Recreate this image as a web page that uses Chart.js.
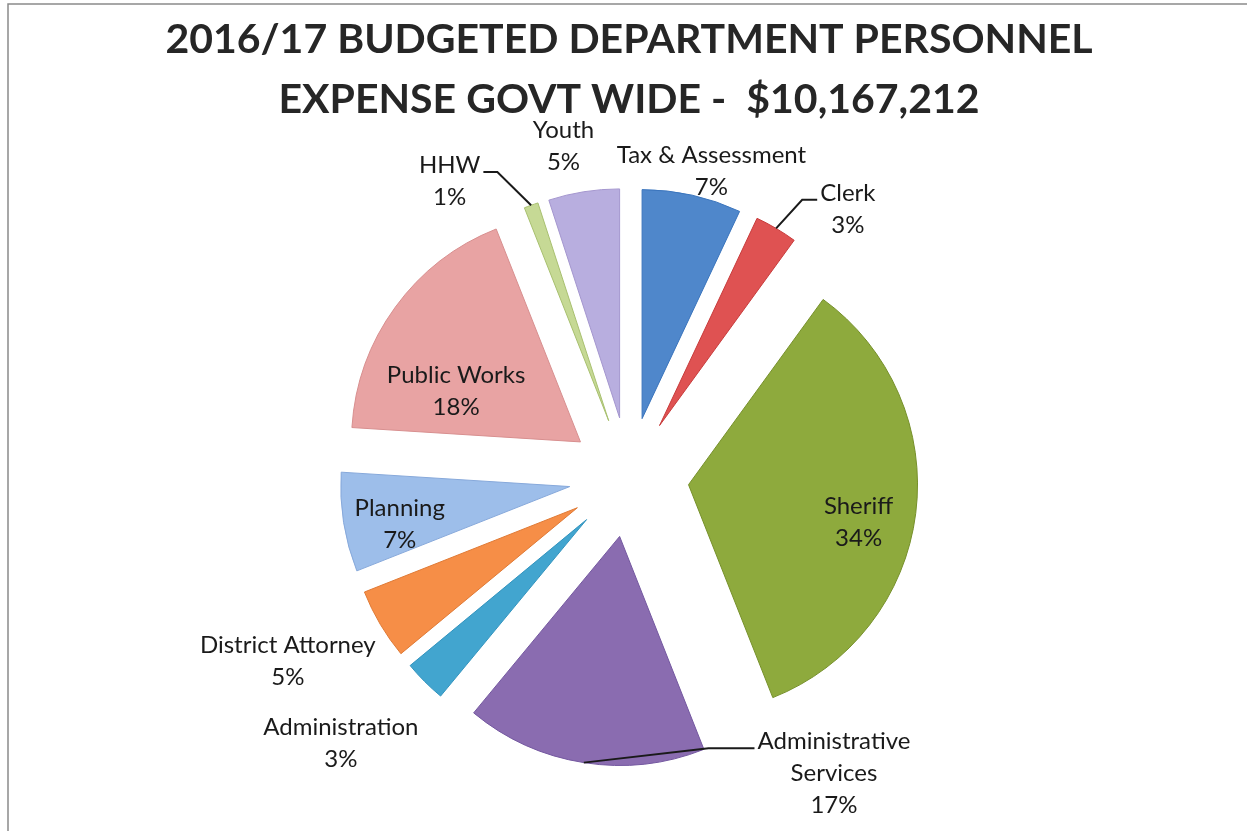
<!DOCTYPE html>
<html>
<head>
<meta charset="utf-8">
<title>2016/17 Budgeted Department Personnel Expense</title>
<script src="https://cdn.jsdelivr.net/npm/chart.js@4.4.0/dist/chart.umd.min.js"></script>
<style>
    html, body { margin: 0; padding: 0; background: #ffffff; }
    #wrap { width: 1247px; height: 831px; }
</style>
</head>
<body>
<div id="wrap"><canvas id="graficoPessoal" width="1247" height="831"></canvas></div>
<script>
// =======================================
// DATA (clockwise from 12 o'clock)
// =======================================
const departments = ["Tax & Assessment", "Clerk", "Sheriff", "Administrative Services", "Administration",
                     "District Attorney", "Planning", "Public Works", "HHW", "Youth"];
const sharePct = [7, 3, 34, 17, 3, 5, 7, 18, 1, 5];
const titleLines = ["2016/17 BUDGETED DEPARTMENT PERSONNEL", "EXPENSE GOVT WIDE -  $10,167,212"];

// =======================================
// STYLE
// =======================================
const fills   = ["#4f87cb", "#df5252", "#8eaa3d", "#8a6cb0", "#42a5cf", "#f68e47", "#9dbeea", "#e8a3a3", "#c6d995", "#b8aedf"];
const borders = ["#3b75bd", "#c83c3c", "#76902a", "#7458a0", "#3294bf", "#e07a35", "#87a9db", "#d88f8f", "#a8c06f", "#a597cf"];
const explode = 60;   // every slice pulled out from the centre by this many px

// label placement: angle shift (deg) from slice middle, distance as part of radius,
// wrap = split name per word, leader = side of the text where the leader line ends
const labelPlace = [
    { da: 2.5,   k: 1.12 },
    { da: 8.6,   k: 1.25, leader: -1, len: 15 },
    { da: 4,     k: 0.76 },
    { da: -43.7, k: 1.31, wrap: true, leader: -1, len: 46 },
    { da: 2.3,   k: 1.45 },
    { da: 2.3,   k: 1.43 },
    { da: -2.6,  k: 0.76 },
    { da: -9.7,  k: 0.58 },
    { da: -11.4, k: 1.25, leader: 1, len: 14 },
    { da: -2.2,  k: 1.21 }
];

// =======================================
// FRAME (top and left edge of the chart box)
// =======================================
const frame = {
    id: "frame",
    beforeDraw(chart) {
        const ctx = chart.ctx;
        ctx.save();
        ctx.fillStyle = "#ffffff";
        ctx.fillRect(0, 0, chart.width, chart.height);
        ctx.strokeStyle = "#8a8a8a";
        ctx.lineWidth = 1.5;
        ctx.beginPath();
        ctx.moveTo(8, chart.height);
        ctx.lineTo(8, 4);
        ctx.lineTo(chart.width, 4);
        ctx.stroke();
        ctx.restore();
    }
};

// =======================================
// EXPLODED SLICES
// the built-in arc offset also trims thin slices, so each arc is
// drawn here with a plain translation along its middle angle
// =======================================
const explodedSlices = {
    id: "explodedSlices",
    beforeDatasetDraw(chart, args) {
        const ctx = chart.ctx;
        args.meta.data.forEach(arc => {
            const mid = (arc.startAngle + arc.endAngle) / 2;
            ctx.save();
            ctx.translate(Math.cos(mid) * explode, Math.sin(mid) * explode);
            arc.draw(ctx);
            ctx.restore();
        });
        return false;
    }
};

// =======================================
// SLICE LABELS + LEADER LINES
// =======================================
const sliceLabels = {
    id: "sliceLabels",
    afterDatasetsDraw(chart) {
        const ctx = chart.ctx;
        const arcs = chart.getDatasetMeta(0).data;
        const total = sharePct.reduce((a, b) => a + b, 0);
        const lh = 32;

        ctx.save();
        ctx.font = "24px Lato";
        ctx.fillStyle = "#1a1a1a";
        ctx.textAlign = "center";
        ctx.textBaseline = "middle";

        arcs.forEach((arc, i) => {
            const p = arc.getProps(["x", "y", "startAngle", "endAngle", "outerRadius"], true);
            const mid = (p.startAngle + p.endAngle) / 2;
            const place = labelPlace[i];

            const ang = mid + place.da * Math.PI / 180;
            const dist = explode + p.outerRadius * place.k;
            const cx = p.x + Math.cos(ang) * dist;
            const cy = p.y + Math.sin(ang) * dist;

            const pct = Math.round(sharePct[i] / total * 100) + "%";
            const lines = (place.wrap ? departments[i].split(" ") : [departments[i]]).concat(pct);
            const y0 = cy - (lines.length - 1) * lh / 2;
            lines.forEach((t, j) => ctx.fillText(t, cx, y0 + j * lh));

            if (place.leader) {
                const tipD = explode + p.outerRadius;
                const tx = p.x + Math.cos(mid) * tipD;
                const ty = p.y + Math.sin(mid) * tipD;
                const w = ctx.measureText(lines[0]).width;
                const ex = cx + place.leader * (w / 2 + 3);
                const ey = y0 + 7;
                ctx.strokeStyle = "#1a1a1a";
                ctx.lineWidth = 2;
                ctx.beginPath();
                ctx.moveTo(tx, ty);
                ctx.lineTo(ex + place.leader * place.len, ey);
                ctx.lineTo(ex, ey);
                ctx.stroke();
            }
        });
        ctx.restore();
    }
};

// =======================================
// CHART
// =======================================
new Chart(document.getElementById("graficoPessoal"), {
    type: "pie",
    data: {
        labels: departments,
        datasets: [{
            data: sharePct,
            backgroundColor: fills,
            borderColor: borders,
            borderWidth: 1,
            radius: 229
        }]
    },
    options: {
        responsive: false,
        animation: false,
        events: [],
        layout: { padding: { left: 11, right: 0, top: 0, bottom: 7 } },
        plugins: {
            legend: { display: false },
            tooltip: { enabled: false },
            title: {
                display: true,
                text: titleLines,
                color: "#262626",
                font: { family: "Lato", weight: "bold", size: 41, lineHeight: 1.48 },
                padding: { top: 9, bottom: 0 }
            }
        }
    },
    plugins: [frame, explodedSlices, sliceLabels]
});
</script>
</body>
</html>
